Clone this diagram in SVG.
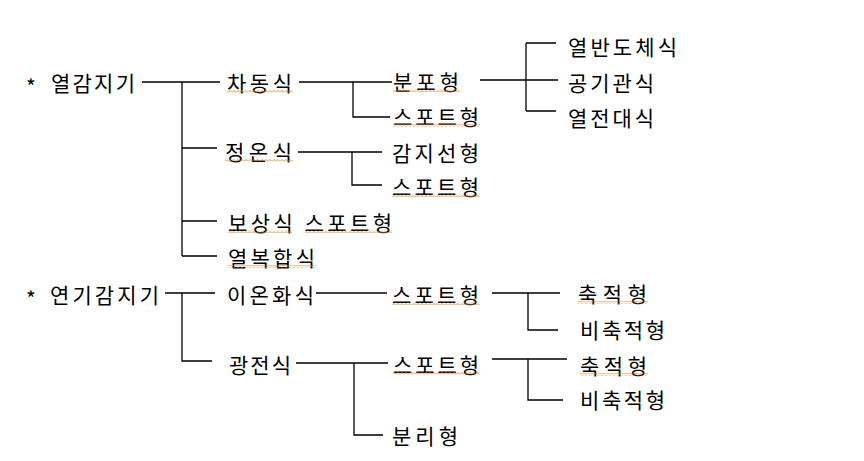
<svg xmlns="http://www.w3.org/2000/svg" width="864" height="461" viewBox="0 0 864 461">
<style>
.t{font-family:"Noto Sans CJK KR","Noto Sans",sans-serif;font-size:21px;fill:#000;dominant-baseline:central}
.c{stroke:#000;stroke-width:1.3;fill:none}
.u{fill:url(#wave)}
</style>
<defs>
<pattern id="wave" width="4" height="3" patternUnits="userSpaceOnUse">
<path d="M0,2.5 L2,0.5 L4,2.5" stroke="#e0802a" stroke-width="0.9" fill="none"/>
</pattern>
</defs>
<rect width="864" height="461" fill="#fff"/>
<g id="connectors">
<path class="c" d="M142,82H220M182,82V256M182,148H217M182,221H217M182,256H217"/>
<path class="c" d="M299,82H392M353,82V117H390"/>
<path class="c" d="M480,80H558M526,43V111M526,43H556M526,111H556"/>
<path class="c" d="M298,152H382M352,152V185H382"/>
<path class="c" d="M165,293H215M182,293V361H212"/>
<path class="c" d="M316,293H387"/>
<path class="c" d="M492,293H560M528,293V330H558"/>
<path class="c" d="M296,363H388M354,363V435H383"/>
<path class="c" d="M492,359H567M528,359V400H563"/>
</g>
<g id="heat"><text class="t" x="27" y="82"><tspan x="26" dy="4">*</tspan><tspan x="51" dy="-4" textLength="84">열감지기</tspan></text></g>
<g id="chadong"><text class="t" x="227" y="82" textLength="65">차동식</text><rect class="u" x="227" y="90" width="66" height="3"/></g>
<g id="jeongon"><text class="t" x="225" y="151" textLength="67">정온식</text><rect class="u" x="225" y="159" width="68" height="3"/></g>
<g id="bosang"><text class="t" x="228" y="222" textLength="164">보상식 스포트형</text><rect class="u" x="228" y="230" width="64" height="3"/><rect class="u" x="305" y="230" width="87" height="3"/></g>
<g id="bokhap"><text class="t" x="228" y="257" textLength="87">열복합식</text><rect class="u" x="228" y="265" width="88" height="3"/></g>
<g id="bunpo"><text class="t" x="393" y="81" textLength="66">분포형</text><rect class="u" x="393" y="89" width="67" height="3"/></g>
<g id="spot1"><text class="t" x="393" y="116" textLength="86">스포트형</text><rect class="u" x="393" y="124" width="87" height="3"/></g>
<g id="gamji"><text class="t" x="392" y="152" textLength="87">감지선형</text></g>
<g id="spot2"><text class="t" x="392" y="186" textLength="87">스포트형</text><rect class="u" x="392" y="194" width="88" height="3"/></g>
<g id="yeolban"><text class="t" x="568" y="46" textLength="109">열반도체식</text></g>
<g id="gonggi"><text class="t" x="568" y="82" textLength="86">공기관식</text></g>
<g id="yeoljeon"><text class="t" x="568" y="117" textLength="86">열전대식</text></g>
<g id="smoke"><text class="t" x="27" y="294"><tspan x="26" dy="4">*</tspan><tspan x="50" dy="-4" textLength="109">연기감지기</tspan></text></g>
<g id="ion"><text class="t" x="227" y="294" textLength="87">이온화식</text></g>
<g id="spot3"><text class="t" x="392" y="294" textLength="87">스포트형</text><rect class="u" x="392" y="302" width="88" height="3"/></g>
<g id="chuk1"><text class="t" x="578" y="293" textLength="69">축적형</text><rect class="u" x="578" y="301" width="70" height="3"/></g>
<g id="bichuk1"><text class="t" x="580" y="329" textLength="85">비축적형</text></g>
<g id="gwang"><text class="t" x="229" y="364" textLength="62">광전식</text></g>
<g id="spot4"><text class="t" x="393" y="364" textLength="86">스포트형</text><rect class="u" x="393" y="372" width="87" height="3"/></g>
<g id="chuk2"><text class="t" x="580" y="365" textLength="67">축적형</text><rect class="u" x="580" y="373" width="68" height="3"/></g>
<g id="bichuk2"><text class="t" x="580" y="399" textLength="85">비축적형</text></g>
<g id="bunri"><text class="t" x="392" y="435" textLength="66">분리형</text></g>
</svg>
